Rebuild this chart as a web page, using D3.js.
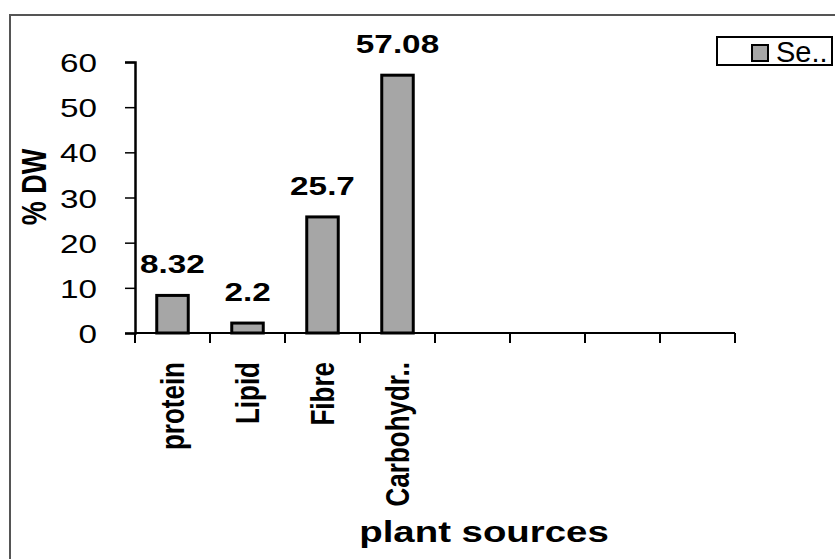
<!DOCTYPE html>
<html>
<head>
<meta charset="utf-8">
<script src="https://cdn.jsdelivr.net/npm/d3@7"></script>
<style>
  html, body { margin: 0; padding: 0; background: #fff; }
  svg { display: block; }
  text { font-family: "Liberation Sans", Arial, sans-serif; fill: #000; }
</style>
</head>
<body>
<div id="chart"></div>
<script>
// ---- data ----
const categories = ["protein", "Lipid", "Fibre", "Carbohydr..", "c5", "c6", "c7", "c8"];
const categoryLabels = ["protein", "Lipid", "Fibre", "Carbohydr..", "", "", "", ""];
const values = [8.32, 2.2, 25.7, 57.08, null, null, null, null];
const valueLabels = ["8.32", "2.2", "25.7", "57.08", "", "", "", ""];
const yTicks = [0, 10, 20, 30, 40, 50, 60];
const seriesName = "Se..";
const yTitle = "% DW";
const xTitle = "plant sources";

// ---- layout ----
const W = 835, H = 559;
const SX = 1.28; // horizontal stretch of the original picture
const plot = { left: 135, right: 735, top: 62, bottom: 333 };

const svg = d3.select("#chart").append("svg").attr("width", W).attr("height", H);

// outer frame (runs off right and bottom edges)
svg.append("rect")
  .attr("x", 10).attr("y", 15).attr("width", W + 20).attr("height", H + 20)
  .attr("fill", "none").attr("stroke", "#555").attr("stroke-width", 2);

const x = d3.scaleBand().domain(categories).range([plot.left, plot.right])
  .paddingInner(0.58).paddingOuter(0.29);
const y = d3.scaleLinear().domain([0, 60]).range([plot.bottom, plot.top]);

// bars
const data = categories.map((c, i) => ({ c, v: values[i], lab: valueLabels[i], name: categoryLabels[i] }));
svg.append("g").selectAll("rect").data(data.filter(d => d.v != null)).join("rect")
  .attr("x", d => x(d.c))
  .attr("y", d => y(d.v))
  .attr("width", x.bandwidth())
  .attr("height", d => y(0) - y(d.v))
  .attr("fill", "#a6a6a6").attr("stroke", "#000").attr("stroke-width", 3);

// value labels
svg.append("g").selectAll("text").data(data.filter(d => d.v != null)).join("text")
  .attr("transform", d => `translate(${x(d.c) + x.bandwidth() / 2},${y(d.v) - 22}) scale(${SX},1)`)
  .attr("text-anchor", "middle")
  .style("font-size", "26px").style("font-weight", "bold")
  .text(d => d.lab);

// y axis
const yAxis = svg.append("g").attr("transform", `translate(${plot.left},0)`)
  .call(d3.axisLeft(y).tickValues(yTicks).tickSize(10).tickFormat(""));
yAxis.select(".domain").attr("stroke", "#000").attr("stroke-width", 2.5);
yAxis.selectAll(".tick line").attr("stroke", "#000").attr("stroke-width", 1.5);
svg.append("g").selectAll("text").data(yTicks).join("text")
  .attr("transform", d => `translate(97,${y(d) + 10}) scale(${SX},1)`)
  .attr("text-anchor", "end")
  .style("font-size", "26px")
  .text(d => d);

// x axis with ticks at category boundaries
const step = x.step();
const bounds = categories.map(c => x(c) - step * x.paddingInner() / 2);
bounds.push(x(categories[categories.length - 1]) + x.bandwidth() + step * x.paddingInner() / 2);
const xAxis = svg.append("g").attr("transform", `translate(0,${plot.bottom})`);
xAxis.append("line").attr("x1", x.range()[0]).attr("x2", x.range()[1])
  .attr("stroke", "#000").attr("stroke-width", 2);
xAxis.selectAll("line.tk").data(bounds).join("line").attr("class", "tk")
  .attr("x1", d => d).attr("x2", d => d).attr("y1", 0).attr("y2", 10)
  .attr("stroke", "#000").attr("stroke-width", 2);

// category labels (rotated)
svg.append("g").selectAll("text").data(data.filter(d => d.name)).join("text")
  .attr("transform", d => `translate(${x(d.c) + x.bandwidth() / 2 + 11},362) scale(${SX},1) rotate(-90)`)
  .attr("text-anchor", "end")
  .style("font-size", "26px").style("font-weight", "bold")
  .text(d => d.name);

// y title
svg.append("text")
  .attr("transform", `translate(46,187) scale(${SX},1) rotate(-90)`)
  .attr("text-anchor", "middle")
  .style("font-size", "27px").style("font-weight", "bold")
  .text(yTitle);

// x title
svg.append("text")
  .attr("transform", `translate(484,542) scale(${SX},1)`)
  .attr("text-anchor", "middle")
  .style("font-size", "30px").style("font-weight", "bold")
  .text(xTitle);

// legend
const lg = svg.append("g");
lg.append("rect").attr("x", 717).attr("y", 37).attr("width", 115).attr("height", 28)
  .attr("fill", "#fff").attr("stroke", "#000").attr("stroke-width", 2);
lg.append("rect").attr("x", 752).attr("y", 45).attr("width", 16).attr("height", 16)
  .attr("fill", "#a6a6a6").attr("stroke", "#000").attr("stroke-width", 2);
lg.append("text").attr("x", 776).attr("y", 62)
  .style("font-size", "29px")
  .text(seriesName);
</script>
</body>
</html>
